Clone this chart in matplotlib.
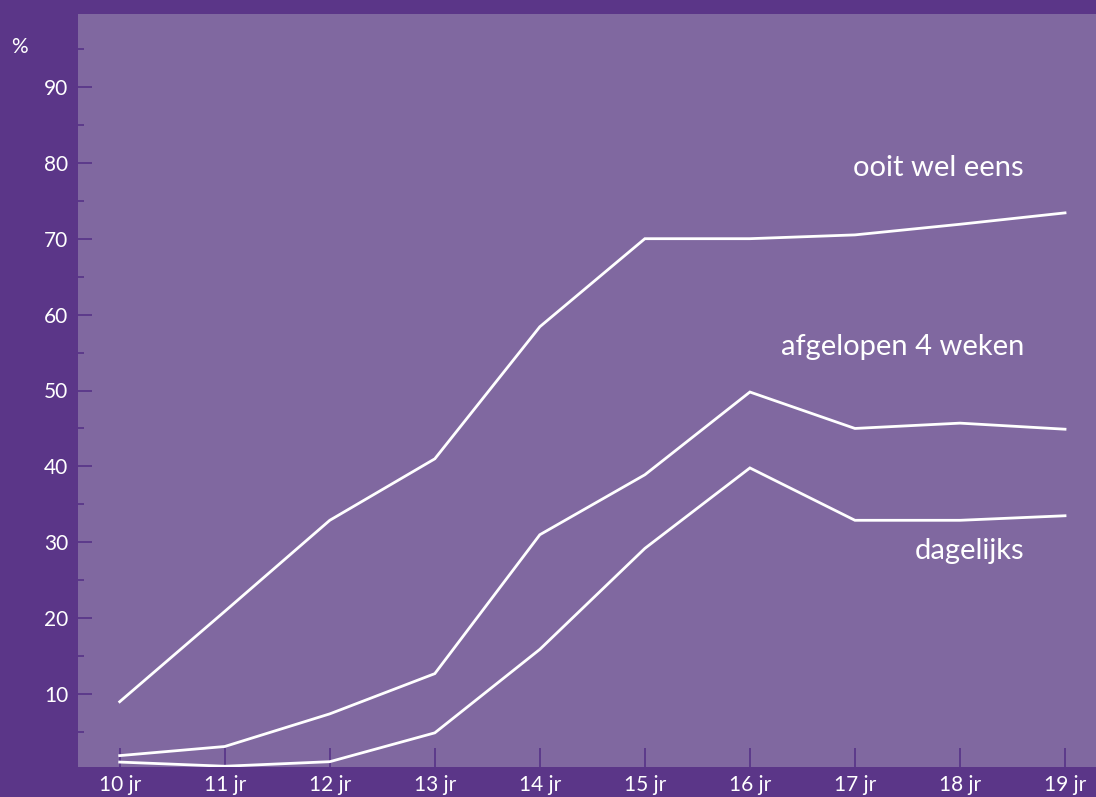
import matplotlib
matplotlib.use("Agg")
import matplotlib.pyplot as plt
from matplotlib.ticker import FixedLocator

ages = [10, 11, 12, 13, 14, 15, 16, 17, 18, 19]
age_labels = ["10 jr", "11 jr", "12 jr", "13 jr", "14 jr", "15 jr", "16 jr", "17 jr", "18 jr", "19 jr"]
ooit = [9.0, 20.9, 32.9, 41.0, 58.4, 70.0, 70.0, 70.5, 71.9, 73.4]
afgelopen = [1.9, 3.1, 7.4, 12.7, 31.0, 38.9, 49.8, 45.0, 45.7, 44.9]
dagelijks = [1.05, 0.5, 1.1, 4.9, 15.9, 29.2, 39.8, 32.9, 32.9, 33.5]
yticks = [10, 20, 30, 40, 50, 60, 70, 80, 90]
series_labels = ["ooit wel eens", "afgelopen 4 weken", "dagelijks"]
label_y = [79.3, 55.7, 28.8]

outer = "#5B3688"
inner = "#8068A0"
tickc = "#5A3789"

plt.rcParams['font.family'] = ['Lato', 'DejaVu Sans']

fig = plt.figure(figsize=(10.96, 7.97), dpi=100, facecolor=outer)
ax = fig.add_axes([78/1096, 1 - 767/797, 1 - 78/1096, (767 - 14)/797])
ax.set_facecolor(inner)

for s in (ooit, afgelopen, dagelijks):
    ax.plot(ages, s, color="white", lw=2.0, solid_joinstyle="miter")

ax.set_xlim(9.603, 19.295)
ax.set_ylim(0.4, 99.6)

for sp in ax.spines.values():
    sp.set_visible(False)

ax.yaxis.set_major_locator(FixedLocator(yticks))
ax.yaxis.set_minor_locator(FixedLocator([5, 15, 25, 35, 45, 55, 65, 75, 85, 95]))
ax.set_yticklabels([str(v) for v in yticks])
ax.xaxis.set_major_locator(FixedLocator(ages))
ax.set_xticklabels(age_labels)

ax.tick_params(axis='y', which='major', direction='in', length=10, width=1.3, color=tickc,
               labelcolor='white', labelsize=15, pad=7)
ax.tick_params(axis='y', which='minor', direction='in', length=4.5, width=1.3, color=tickc)
ax.tick_params(axis='x', which='major', direction='in', length=14, width=1.3, color=tickc,
               labelcolor='white', labelsize=15, pad=6)

for lab, yv in zip(series_labels, label_y):
    ax.text(18.61, yv, lab, color='white', fontsize=21, ha='right', va='center')

fig.text(19/1096, 1 - 47/797, "%", color='white', fontsize=15, ha='center', va='center')

fig.savefig("out.png", dpi=100, facecolor=outer)
